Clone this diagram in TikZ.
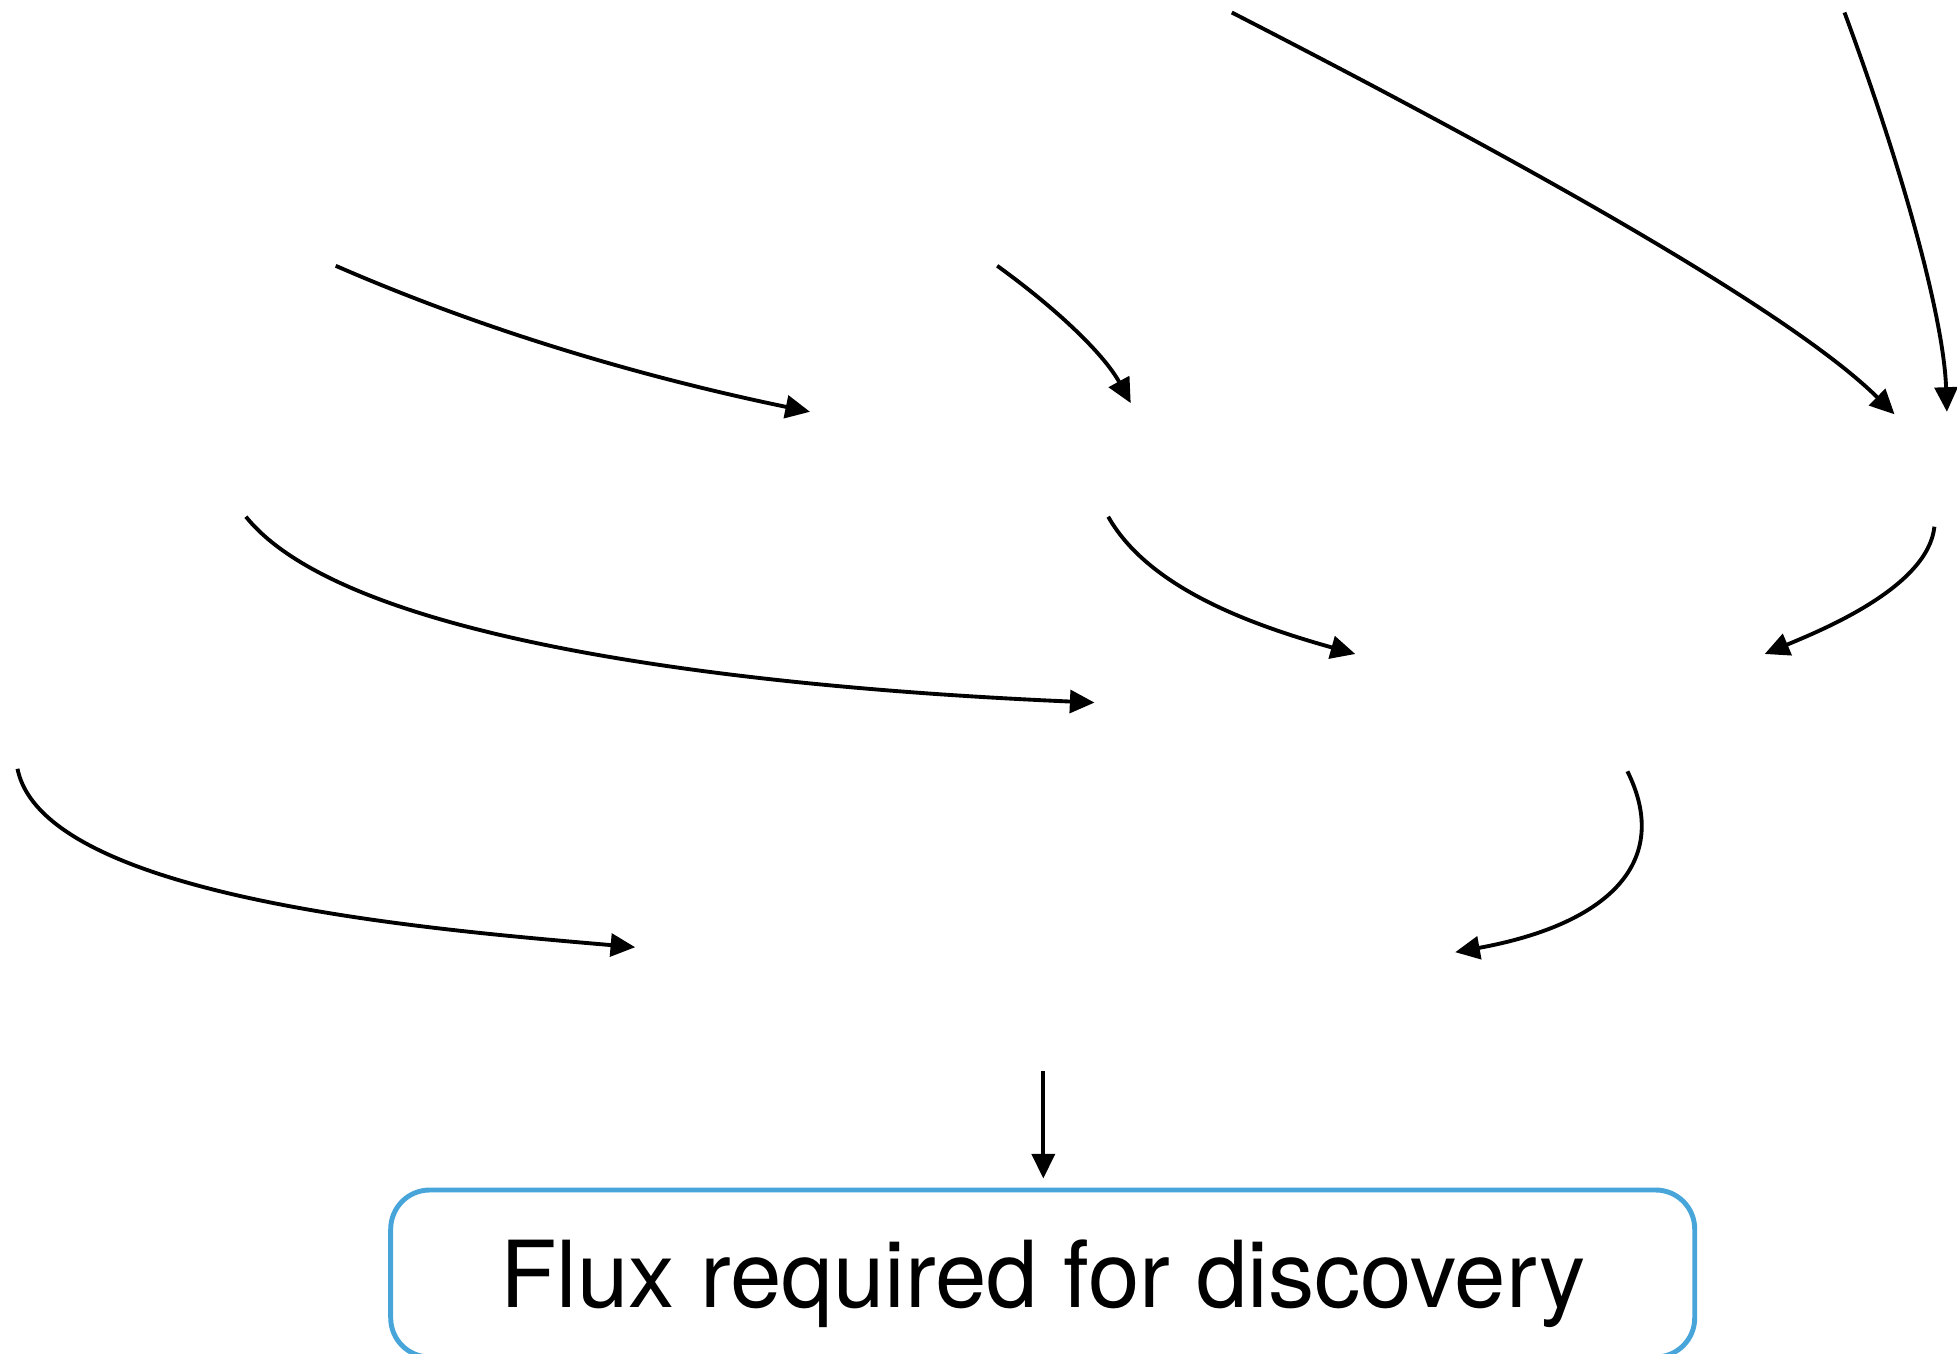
\documentclass[tikz,border=0pt]{standalone}
\usepackage{fontspec}
\setmainfont{TeX Gyre Heros}
\usepackage{tikz}
\usetikzlibrary{arrows.meta}
\definecolor{fluxblue}{RGB}{72,165,218}
\tikzstyle{arrow} = [-{Triangle[length=7pt,width=6.5pt]},line width=1.1pt]
\tikzstyle{fluxbox} = [draw=fluxblue,line width=1.4pt,rounded corners=0.39cm,
  inner sep=0pt,font=\fontsize{26.3}{31}\selectfont]

\begin{document}
\begin{tikzpicture}[x=1cm,y=-1cm]
    \useasboundingbox (0,0) rectangle (19.57,13.54);
    % loose ends of the connectors
    \coordinate (a1s) at (12.318,0.125);  \coordinate (a1e) at (18.945,4.143);
    \coordinate (a2s) at (18.445,0.125);  \coordinate (a2e) at (19.469,4.118);
    \coordinate (a3s) at (3.357,2.658);   \coordinate (a3e) at (8.100,4.118);
    \coordinate (a4s) at (9.972,2.658);   \coordinate (a4e) at (11.307,4.031);
    \coordinate (a5s) at (2.459,5.167);   \coordinate (a5e) at (10.945,7.026);
    \coordinate (a6s) at (11.082,5.167);  \coordinate (a6e) at (13.553,6.540);
    \coordinate (a7s) at (19.344,5.267);  \coordinate (a7e) at (17.647,6.540);
    \coordinate (a8s) at (0.175,7.688);   \coordinate (a8e) at (6.352,9.472);
    \coordinate (a9s) at (16.274,7.713);  \coordinate (a9e) at (14.552,9.522);
    \coordinate (a10s) at (10.433,10.708);
    \node[fluxbox,minimum width=13.04cm,minimum height=1.67cm] (flux) at (10.427,12.735)
        {\raisebox{-1mm}[\height][\depth]{Flux required for discovery}};
    % top row
    \draw[arrow] (a1s) .. controls (15.60,1.81) and (17.97,3.18) .. (a1e);
    \draw[arrow] (a2s) .. controls (19.09,1.87) and (19.44,3.25) .. (a2e);
    % second row
    \draw[arrow] (a3s) .. controls (4.99,3.37) and (6.61,3.81) .. (a3e);
    \draw[arrow] (a4s) .. controls (10.61,3.12) and (11.05,3.56) .. (a4e);
    % third row
    \draw[arrow] (a5s) .. controls (3.62,6.61) and (8.74,6.93) .. (a5e);
    \draw[arrow] (a6s) .. controls (11.48,5.87) and (12.48,6.24) .. (a6e);
    \draw[arrow] (a7s) .. controls (19.28,5.87) and (18.22,6.30) .. (a7e);
    % fourth row
    \draw[arrow] (a8s) .. controls (0.44,8.99) and (4.37,9.30) .. (a8e);
    \draw[arrow] (a9s) .. controls (16.72,8.61) and (16.10,9.24) .. (a9e);
    \draw[arrow,shorten >=0.09cm] (a10s) -- (a10s |- flux.north);
\end{tikzpicture}
\end{document}
